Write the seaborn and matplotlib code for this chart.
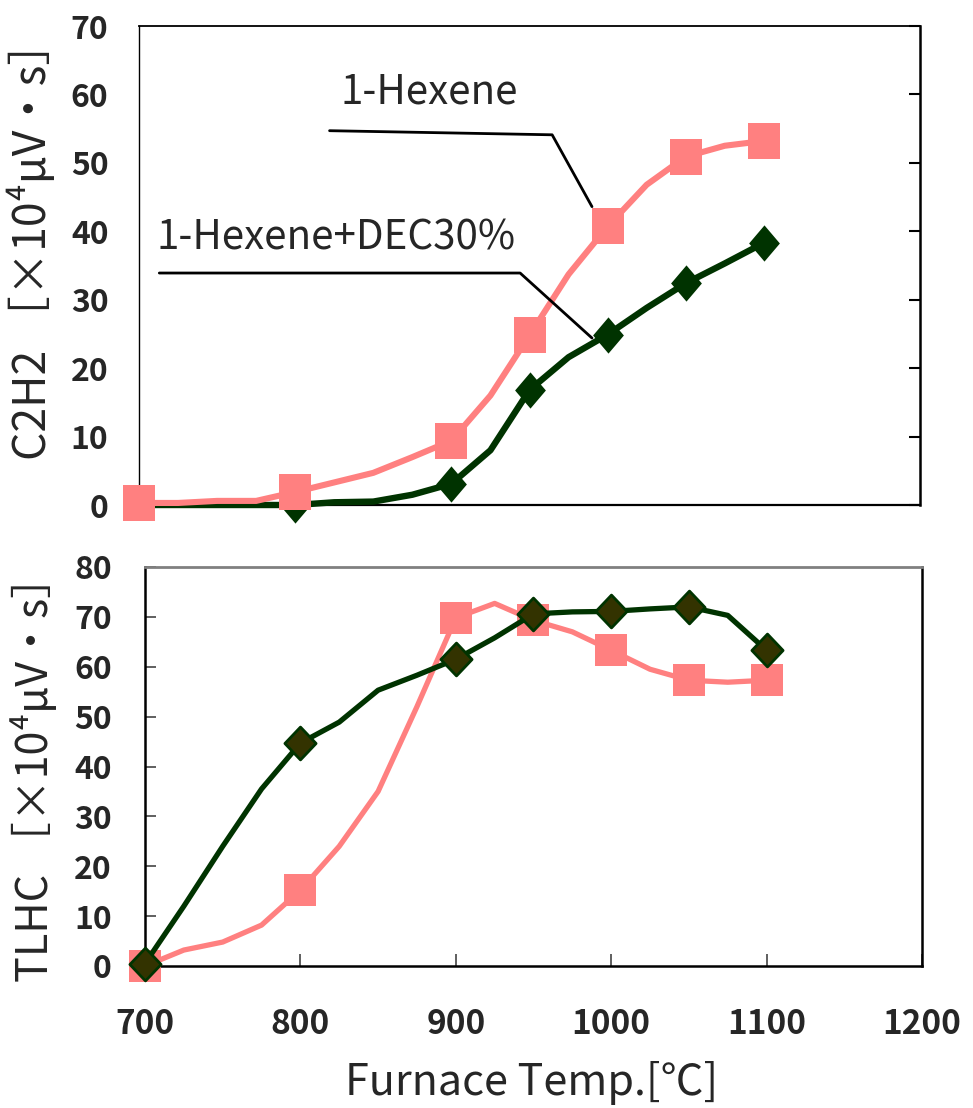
import numpy as np
import pandas as pd
import matplotlib
matplotlib.use("Agg")
import matplotlib.pyplot as plt
from matplotlib.path import Path
import seaborn as sns

# Furnace temperatures (°C); markers are shown only at the measured points
temps = [700, 725, 750, 775, 800, 825, 850, 875, 900, 925, 950, 975, 1000, 1025, 1050, 1075, 1100]
marker_temps = [700, 800, 900, 950, 1000, 1050, 1100]

# C2H2 yield [x10^4 uV*s]
c2h2_hexene = [0.3, 0.3, 0.6, 0.6, 1.9, 3.3, 4.7, 7.0, 9.4, 16.0, 24.8, 33.7, 40.7, 46.8, 50.9, 52.5, 53.2]
c2h2_hexene_dec = [0.0, 0.0, 0.0, 0.0, 0.0, 0.4, 0.5, 1.5, 3.1, 8.0, 16.8, 21.6, 24.9, 28.8, 32.4, 35.3, 38.3]

# Total light hydrocarbons [x10^4 uV*s]
tlhc_hexene = [0.0, 3.2, 4.8, 8.2, 15.2, 24.0, 35.0, 52.0, 69.8, 72.7, 69.3, 67.0, 63.3, 59.5, 57.3, 56.9, 57.3]
tlhc_hexene_dec = [0.5, 12.0, 24.0, 35.5, 44.7, 48.9, 55.3, 58.3, 61.5, 65.8, 70.6, 71.0, 71.1, 71.6, 72.0, 70.3, 63.3]

fuels = ["1-Hexene", "1-Hexene+DEC30%"]
x_ticks = [700, 800, 900, 1000, 1100, 1200]
c2h2_ticks = [0, 10, 20, 30, 40, 50, 60, 70]
tlhc_ticks = [0, 10, 20, 30, 40, 50, 60, 70, 80]

df = pd.concat([
    pd.DataFrame({"Temp": temps, "C2H2": c2h2_hexene, "TLHC": tlhc_hexene, "Fuel": fuels[0]}),
    pd.DataFrame({"Temp": temps, "C2H2": c2h2_hexene_dec, "TLHC": tlhc_hexene_dec, "Fuel": fuels[1]}),
], ignore_index=True)
df_marked = df[df["Temp"].isin(marker_temps)]

sns.set_theme(style="white")
plt.rcParams["font.family"] = ["Noto Sans CJK JP", "DejaVu Sans"]

PINK = "#FF8080"
GREEN = "#003300"
OLIVE = "#333300"

# Marker shapes: slightly tall square and diamond
tall_square = Path([(-0.88, -1), (0.88, -1), (0.88, 1), (-0.88, 1), (-0.88, -1)],
                   [Path.MOVETO, Path.LINETO, Path.LINETO, Path.LINETO, Path.CLOSEPOLY])
diamond = Path([(0, 1), (0.85, 0), (0, -1), (-0.85, 0), (0, 1)],
               [Path.MOVETO, Path.LINETO, Path.LINETO, Path.LINETO, Path.CLOSEPOLY])
diamond_b = Path([(0, 1), (0.95, 0), (0, -1), (-0.95, 0), (0, 1)],
                 [Path.MOVETO, Path.LINETO, Path.LINETO, Path.LINETO, Path.CLOSEPOLY])

fig = plt.figure(figsize=(9.73, 11.08), dpi=100)
ax1 = fig.add_axes([139 / 973, 1 - 505 / 1108, (920 - 139) / 973, (505 - 26) / 1108])
ax2 = fig.add_axes([145 / 973, 1 - 966 / 1108, (922 - 145) / 973, (966 - 567) / 1108])

# ---- Upper panel: C2H2 ----
d_hex = df[df["Fuel"] == fuels[0]]
d_dec = df[df["Fuel"] == fuels[1]]
m_hex = df_marked[df_marked["Fuel"] == fuels[0]]
m_dec = df_marked[df_marked["Fuel"] == fuels[1]]
m_dec_top = m_dec[m_dec["Temp"] > marker_temps[0]]

sns.lineplot(data=d_dec, x="Temp", y="C2H2", color=GREEN, linewidth=4.6, ax=ax1,
             legend=False, zorder=3, clip_on=False)
sns.scatterplot(data=m_dec_top, x="Temp", y="C2H2", color=GREEN, marker=diamond, s=680,
                linewidth=0, ax=ax1, legend=False, zorder=4, clip_on=False)
sns.lineplot(data=d_hex, x="Temp", y="C2H2", color=PINK, linewidth=4.4, ax=ax1,
             legend=False, zorder=5, clip_on=False)
sns.scatterplot(data=m_hex, x="Temp", y="C2H2", color=PINK, marker=tall_square, s=680,
                linewidth=0, ax=ax1, legend=False, zorder=6, clip_on=False)

ax1.set_xlim(700, 1200)
ax1.set_ylim(0, 70)
ax1.set_yticks(c2h2_ticks)
ax1.set_xticks([])
ax1.tick_params(axis="y", left=False, right=True, labelleft=True, labelright=False,
                direction="in", length=8, width=1.5, color="black", pad=22,
                labelsize=23)
for lab in ax1.get_yticklabels():
    lab.set_fontweight("bold")
ax1.set_xlabel("")
ax1.set_ylabel("")
for side, lw in [("left", 1.0), ("top", 1.3), ("right", 1.8), ("bottom", 1.6)]:
    ax1.spines[side].set_color("black")
    ax1.spines[side].set_linewidth(lw)

# Series labels with leader lines
ax1.text(886, 60.4, fuels[0], ha="center", va="center", fontsize=29)
ax1.plot([822, 964.5, 990], [54.7, 54.1, 43.6], color="black", linewidth=2.0, zorder=7)
ax1.text(826, 39.0, fuels[1], ha="center", va="center", fontsize=29)
ax1.plot([713, 944, 990], [33.9, 33.9, 24.4], color="black", linewidth=2.0, zorder=7)

# ---- Lower panel: TLHC ----
sns.lineplot(data=d_hex, x="Temp", y="TLHC", color=PINK, linewidth=3.8, ax=ax2,
             legend=False, zorder=3, clip_on=False)
sns.scatterplot(data=m_hex, x="Temp", y="TLHC", color=PINK, marker="s", s=530,
                linewidth=0, ax=ax2, legend=False, zorder=4, clip_on=False)
sns.lineplot(data=d_dec, x="Temp", y="TLHC", color=GREEN, linewidth=3.8, ax=ax2,
             legend=False, zorder=5, clip_on=False)
sns.scatterplot(data=m_dec, x="Temp", y="TLHC", color=OLIVE, marker=diamond_b, s=560,
                edgecolor=GREEN, linewidth=2.0, ax=ax2, legend=False, zorder=6,
                clip_on=False)

ax2.set_xlim(700, 1200)
ax2.set_ylim(0, 80)
ax2.set_xticks(x_ticks)
ax2.set_yticks(tlhc_ticks)
ax2.tick_params(axis="y", left=True, right=False, direction="in", length=8, width=1.2,
                color="#444444", pad=24, labelsize=23)
ax2.tick_params(axis="x", bottom=True, top=False, direction="in", length=9, width=1.2,
                color="#444444", pad=30, labelsize=24)
for lab in ax2.get_yticklabels() + ax2.get_xticklabels():
    lab.set_fontweight("bold")
ax2.set_xlabel("")
ax2.set_ylabel("")
ax2.spines["top"].set_color("#808080")
ax2.spines["top"].set_linewidth(2.0)
for side in ["left", "right", "bottom"]:
    ax2.spines[side].set_color("black")
    ax2.spines[side].set_linewidth(1.8)

# Axis titles
fig.text(32 / 973, 1 - 240 / 1108, "C2H2 ［×10⁴μV・s］", rotation=90, ha="center",
         va="center", fontsize=32)
fig.text(35 / 973, 1 - 768 / 1108, "TLHC ［×10⁴μV・s］", rotation=90, ha="center",
         va="center", fontsize=31)
fig.text(532 / 973, 1 - 1083 / 1108, "Furnace Temp.[℃]", ha="center", va="center",
         fontsize=31)

fig.savefig("out.png", dpi=100, facecolor="white")
